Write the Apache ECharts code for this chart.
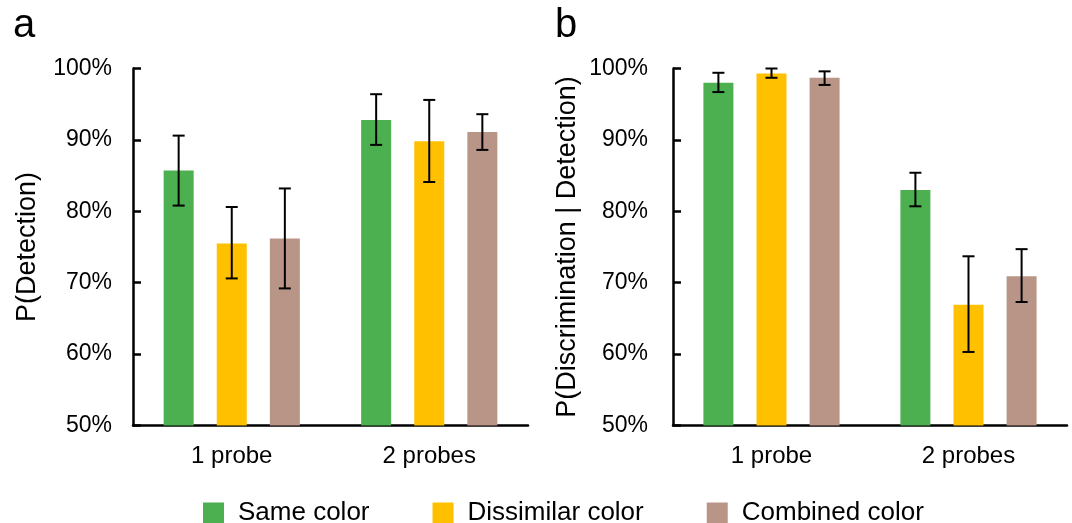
<!DOCTYPE html>
<html>
<head>
<meta charset="utf-8">
<script src="https://cdn.jsdelivr.net/npm/echarts@6/dist/echarts.min.js"></script>
<style>
  html, body { margin: 0; padding: 0; background: #fff; }
  #chart { width: 1072px; height: 523px; }
</style>
</head>
<body>
<div id="chart"></div>
<script>
// ---- data ----
const categories = ['1 probe', '2 probes'];
const seriesNames = ['Same color', 'Dissimilar color', 'Combined color'];
const yTicks = [50, 60, 70, 80, 90, 100];

// Panel a: P(Detection)
const detSame = [85.7, 92.8];
const detSameLo = [80.8, 89.3];
const detSameHi = [90.6, 96.4];
const detDiss = [75.5, 89.8];
const detDissLo = [70.6, 84.1];
const detDissHi = [80.6, 95.6];
const detComb = [76.2, 91.1];
const detCombLo = [69.2, 88.6];
const detCombHi = [83.2, 93.6];

// Panel b: P(Discrimination | Detection)
const discSame = [98.0, 83.0];
const discSameLo = [96.7, 80.7];
const discSameHi = [99.4, 85.4];
const discDiss = [99.3, 66.9];
const discDissLo = [98.7, 60.3];
const discDissHi = [100.0, 73.7];
const discComb = [98.7, 70.9];
const discCombLo = [97.7, 67.3];
const discCombHi = [99.6, 74.7];

// ---- styling ----
const colors = ['#4CAF50', '#FFC000', '#B99588'];
const FONT = 'Liberation Sans, Arial, sans-serif';
const BAR_W = 30;
const BAR_GAP = 0.77;
const STEP = BAR_W * (1 + BAR_GAP);

function errData(lo, hi) {
  return categories.map((c, i) => [i, lo[i], hi[i]]);
}

function errSeries(name, idx, gridIdx, lo, hi) {
  return {
    type: 'custom',
    name: name + ' error',
    xAxisIndex: gridIdx,
    yAxisIndex: gridIdx,
    z: 5,
    silent: true,
    data: errData(lo, hi),
    encode: { x: 0, y: [1, 2] },
    renderItem: function (params, api) {
      const cat = api.value(0);
      const pLo = api.coord([cat, api.value(1)]);
      const pHi = api.coord([cat, api.value(2)]);
      const x = pLo[0] + (idx - 1) * STEP;
      const cap = 6;
      const style = { stroke: '#000', lineWidth: 2 };
      return {
        type: 'group',
        children: [
          { type: 'line', shape: { x1: x, y1: pLo[1], x2: x, y2: pHi[1] }, style: style },
          { type: 'line', shape: { x1: x - cap, y1: pLo[1], x2: x + cap, y2: pLo[1] }, style: style },
          { type: 'line', shape: { x1: x - cap, y1: pHi[1], x2: x + cap, y2: pHi[1] }, style: style }
        ]
      };
    }
  };
}

function barSeries(name, idx, gridIdx, values) {
  return {
    type: 'bar',
    name: name,
    xAxisIndex: gridIdx,
    yAxisIndex: gridIdx,
    barWidth: BAR_W,
    barGap: (BAR_GAP * 100) + '%',
    itemStyle: { color: colors[idx] },
    data: values
  };
}

function xAxis(gridIdx) {
  return {
    type: 'category',
    gridIndex: gridIdx,
    data: categories,
    axisLine: { lineStyle: { color: '#000', width: 2.5 } },
    axisTick: { show: false },
    axisLabel: { color: '#000', fontSize: 24, fontFamily: FONT, margin: 19 }
  };
}

function yAxis(gridIdx, name, margin) {
  return {
    type: 'value',
    gridIndex: gridIdx,
    min: yTicks[0],
    max: yTicks[yTicks.length - 1],
    interval: 10,
    name: name,
    nameLocation: 'middle',
    nameGap: 92,
    nameTextStyle: { color: '#000', fontSize: 27, fontFamily: FONT },
    axisLine: { show: true, lineStyle: { color: '#000', width: 2.5 } },
    axisTick: { show: true, inside: true, length: 8, lineStyle: { color: '#000', width: 2.5 } },
    splitLine: { show: false },
    axisLabel: { color: '#000', fontSize: 23, fontFamily: FONT, margin: margin, formatter: '{value}%' }
  };
}

const chart = echarts.init(document.getElementById('chart'), null, { renderer: 'canvas' });

const option = {
  backgroundColor: '#fff',
  animation: false,
  textStyle: { fontFamily: FONT },
  legend: {
    data: seriesNames,
    left: 198,
    top: 495,
    itemWidth: 21,
    itemHeight: 21,
    itemGap: 63,
    icon: 'rect',
    textStyle: { color: '#000', fontSize: 26, fontFamily: FONT, padding: [0, 0, 0, 9] }
  },
  graphic: [
    { type: 'text', left: 13, top: 6, style: { text: 'a', fontSize: 40, fontFamily: FONT, fill: '#000' } },
    { type: 'text', left: 555, top: 6, style: { text: 'b', fontSize: 40, fontFamily: FONT, fill: '#000' } }
  ],
  grid: [
    { left: 133, right: 544, top: 68.5, bottom: 97.5 },
    { left: 673, right: 5, top: 68.5, bottom: 97.5 }
  ],
  xAxis: [xAxis(0), xAxis(1)],
  yAxis: [yAxis(0, 'P(Detection)', 21), yAxis(1, 'P(Discrimination | Detection)', 25)],
  series: [
    barSeries(seriesNames[0], 0, 0, detSame),
    barSeries(seriesNames[1], 1, 0, detDiss),
    barSeries(seriesNames[2], 2, 0, detComb),
    barSeries(seriesNames[0], 0, 1, discSame),
    barSeries(seriesNames[1], 1, 1, discDiss),
    barSeries(seriesNames[2], 2, 1, discComb),
    errSeries(seriesNames[0], 0, 0, detSameLo, detSameHi),
    errSeries(seriesNames[1], 1, 0, detDissLo, detDissHi),
    errSeries(seriesNames[2], 2, 0, detCombLo, detCombHi),
    errSeries(seriesNames[0], 0, 1, discSameLo, discSameHi),
    errSeries(seriesNames[1], 1, 1, discDissLo, discDissHi),
    errSeries(seriesNames[2], 2, 1, discCombLo, discCombHi)
  ]
};

chart.setOption(option);
</script>
</body>
</html>
